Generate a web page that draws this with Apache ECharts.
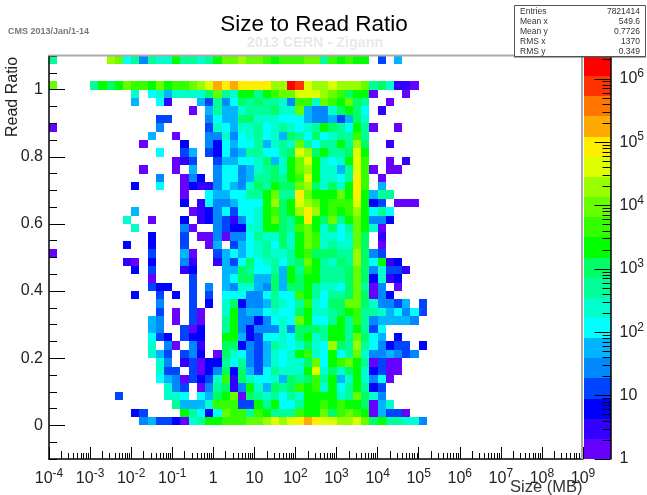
<!DOCTYPE html>
<html><head><meta charset="utf-8">
<style>html,body{margin:0;padding:0;background:#fff}#c{width:647px;height:495px}</style>
<script src="https://cdn.jsdelivr.net/npm/echarts@6/dist/echarts.min.js"></script>
</head><body><div id="c"></div>
<script>
// Estimated counts per colour letter a..t, read from the colour of each cell
const countByLetter = {a:1.4,b:3,c:6,d:13,e:27,f:56,g:115,h:240,i:500,j:1040,k:2160,l:4480,m:9300,n:19300,o:40000,p:83000,q:172000,r:357000,s:741000,t:1540000};
const bandColors = ['#6600ff','#3300ff','#0000ff','#0044ff','#0088ff','#00b4ff','#00ffff','#00ffcc','#00ff99','#00ff66','#00ff00','#33ff00','#66ff00','#99ff00','#ddff00','#ffee00','#ffaa00','#ff7700','#ff3300','#ff0000'];
const zMaxLog = 6.36;
const xBinsPerDecade = 5, xMinLog = -4, xMaxLog = 9;
const yBinWidth = 0.025, yMin = -0.1, yMax = 1.1;
// Rows listed from the top bin (1.075-1.1) downward; a letter per x bin, '.' = empty
const rows = [
"i......nmgieihhkiihikmmnmmlklllmmilklkk.d.f",
"",
"",
"m....ikjkmllkmkllmnoqpqppppnntsonnonnnmijhbba",
"..........h.ghfhhhhjmihkkiklmmooonmljkka...a",
"..........f..gb...fdiegjijiihellhmlkmji..a",
".................a.fiffhiiijhhmfeehjkjg.b",
".............dd....egffjjhhhgggfeefdfjh",
"a............e.....dhgfhhighihghikjigkia..a",
"............f..a...eeheghighfjigjghiili",
"...........a....c..ecgfggifhihmigiikinj..b",
".............g..df.dcgefiiggijonjkiijok",
"...............abd..dffgghjfhkmokhghkol..a.b",
"...........a...a.f..eggefhijhkmnkhhfiola.aa",
".............e..aec.eggefiijiklokhhgipl.a",
"..........c..g..acbbegfehjikjjmnjhjhkpl.f",
"................a..gffggiikmiipmkkkmkpkfii",
"................c.bgeefgggknjkonmklllokcd.aaa",
"..........f......abcegdgghkljknpnklklnkgig",
".........h..a...c.bcedbeghkmjikpkjmikmkeec",
"..........h.....ea..edcchhkkjilmkhjgimkha",
"............c...d.aaeaeegihhjhkmlhhghmj.b",
".........c..c...d..af.dfghigjhkmlhihhmj.a",
"a...........d...fa..dfgfghihhikljjjiinjed",
".........ba.c...eb..bfdgjghigijmkihjinjgkbc",
"..........c.d...bc...ffjiggifkilkiiijmjehddb",
"............a....d...fgjjffjfkjkkiiijmjchbc",
"............dcc..d.e.fehhfejfjjkihhgjmiae.a",
"..........c..d.c.d.d.gggeegigglkigiijmjaec",
".............e...d.c.hjceefihgilhgjjmmjheedf.d",
".............d.a.da..hkeffghggjkhhijkliihfgegd",
"............fe.a.da..ikeeceghgmkggikilieffffe",
"............fe..dac..ikeceeehejjjikkikidg",
"............gdc.dcc..kkfcdgghgjkhikkimjgf.c",
"............h.ea.eb..jjcedfihghjhgnjinigecdd.c",
"............hfd.dec.ajhgedfhghklhgkgimheefede",
".............he.bdaccigiedfhghhjmgklmkiadaa",
".............hdd.dacejcjfdgihhhkohjhjkhcdaa",
".............gfeadcdhlbjhgghfjijlikfhkhega",
"..............hed.aeijbekhfjijlklhkgikicd",
"........d.....hhg.gfjkmajihigihkkkkhimjhe",
"...............ifffhlllddkikggikklklkkjafh",
"..........cd....kigcgmllilkiiilkkmjlmlkafdda",
"...........efddcahikklllmmnonopqpoonnomjkiihhe",
"","","",""
];
const statNames = ['Entries','Mean x','Mean y','RMS x','RMS y'];
const statValues = ['7821414','549.6','0.7726','1370','0.349'];
const yLabelTicks = [0,0.2,0.4,0.6,0.8,1];
const zMajorTicks = [0,1,2,3,4,5,6];

const cells = [];
rows.forEach((row, r) => {
  const low = yMax - (r + 1) * yBinWidth;
  for (let i = 0; i < row.length; i++) {
    if (row[i] === '.') continue;
    cells.push([xMinLog + i / xBinsPerDecade, xMinLog + (i + 1) / xBinsPerDecade, low, low + yBinWidth, countByLetter[row[i]]]);
  }
});
const xMinor = [], xMid = [];
for (let d = xMinLog; d < xMaxLog; d++) {
  [2,3,4,5,6,7,8,9].forEach(m => { (m === 2 ? xMid : xMinor).push(d + Math.log10(m)); });
}
const yMinor = [];
for (let k = -2; k <= 22; k++) yMinor.push(+(k * 0.05).toFixed(2));
const zMinor = [];
for (let d = 0; d <= 6; d++) [2,3,4,5,6,7,8,9].forEach(m => { const v = d + Math.log10(m); if (v < zMaxLog) zMinor.push(v); });
const bands = bandColors.map((c, j) => [zMaxLog * j / 20, zMaxLog * (j + 1) / 20, j]);

function colorOf(count) {
  const j = Math.min(19, Math.max(0, Math.floor(Math.log10(count) / zMaxLog * 20)));
  return bandColors[j];
}
function rectBetween(api, x0, x1, y0, y1, fill) {
  const a = api.coord([x0, y1]), b = api.coord([x1, y0]);
  const l = Math.round(a[0]), t = Math.round(a[1]), r = Math.round(b[0]), bt = Math.round(b[1]);
  return {type:'rect', shape:{x:l, y:t, width:r - l, height:bt - t}, style:{fill}};
}
const labelFont = {fontFamily:'Liberation Sans', fontSize:16, color:'#222'};
const expRich = {n:{fontFamily:'Liberation Sans', fontSize:16, color:'#222', lineHeight:22}, s:{fontFamily:'Liberation Sans', fontSize:12, color:'#222', lineHeight:22, verticalAlign:'top', padding:[0,0,8,0]}};
function expLabel(v) {
  const n = Math.round(v);
  if (n === 0) return '{n|1}';
  if (n === 1) return '{n|10}';
  return '{n|10}{s|' + n + '}';
}
const plain = {show:false};
const option = {
  animation:false,
  backgroundColor:'#fff',
  grid:[
    {left:49, top:56, width:534, height:403, show:false},
    {left:584, top:56, width:30, height:403, show:false}
  ],
  xAxis:[
    {gridIndex:0, z:5, position:'bottom', type:'value', min:xMinLog, max:xMaxLog, interval:1, splitLine:plain,
     axisLine:{onZero:false, lineStyle:{color:'#000', width:1.5}}, axisTick:{inside:true, length:12, lineStyle:{color:'#000'}},
     axisLabel:{...labelFont, formatter:expLabel, margin:9, rich:expRich, hideOverlap:false, showMinLabel:true, showMaxLabel:true}},
    {gridIndex:0, z:5, position:'bottom', type:'value', min:xMinLog, max:xMaxLog, splitLine:plain, axisLine:{show:false, onZero:false}, axisLabel:plain,
     axisTick:{inside:true, length:6, customValues:xMinor, lineStyle:{color:'#000'}}},
    {gridIndex:0, z:5, position:'bottom', type:'value', min:xMinLog, max:xMaxLog, splitLine:plain, axisLine:{show:false, onZero:false}, axisLabel:plain,
     axisTick:{inside:true, length:8, customValues:xMid, lineStyle:{color:'#000'}}},
    {gridIndex:1, type:'value', min:0, max:1, show:false}
  ],
  yAxis:[
    {gridIndex:0, z:5, position:'left', type:'value', min:yMin, max:yMax, splitLine:plain,
     axisLine:{show:true, onZero:false, lineStyle:{color:'#000', width:1.5}},
     axisTick:{show:true, inside:true, length:16, customValues:yLabelTicks, lineStyle:{color:'#000'}},
     axisLabel:{...labelFont, margin:6, customValues:yLabelTicks, formatter:v => String(v)}},
    {gridIndex:0, z:5, position:'left', type:'value', min:yMin, max:yMax, splitLine:plain, axisLine:{show:false, onZero:false}, axisLabel:plain,
     axisTick:{show:true, inside:true, length:8, customValues:yMinor, lineStyle:{color:'#000'}}},
    {gridIndex:1, z:5, type:'value', position:'right', min:0, max:zMaxLog, splitLine:plain,
     axisLine:{show:true, onZero:false, lineStyle:{color:'#000', width:1.5}},
     axisTick:{show:true, inside:true, length:16, customValues:zMajorTicks, lineStyle:{color:'#000'}},
     axisLabel:{...labelFont, margin:9, align:'left', customValues:zMajorTicks, formatter:expLabel, rich:expRich}},
    {gridIndex:1, z:5, type:'value', position:'right', min:0, max:zMaxLog, splitLine:plain, axisLine:{show:false, onZero:false}, axisLabel:plain,
     axisTick:{show:true, inside:true, length:8, customValues:zMinor, lineStyle:{color:'#000'}}}
  ],
  series:[
    {type:'custom', xAxisIndex:0, yAxisIndex:0, coordinateSystem:'cartesian2d', data:cells, silent:true, z:1,
     renderItem:(p, api) => rectBetween(api, api.value(0), api.value(1), api.value(2), api.value(3), colorOf(api.value(4)))},
    {type:'custom', xAxisIndex:3, yAxisIndex:2, coordinateSystem:'cartesian2d', data:bands, silent:true, z:1,
     renderItem:(p, api) => rectBetween(api, 0, 1, api.value(0), api.value(1), bandColors[api.value(2)])}
  ],
  graphic:[
    {type:'line', shape:{x1:49,y1:55.5,x2:583,y2:55.5}, style:{stroke:'#aaa', lineWidth:2}, z:20},
    {type:'line', shape:{x1:582,y1:55,x2:582,y2:459}, style:{stroke:'#aaa', lineWidth:2}, z:20},
    {type:'text', x:8, y:27, style:{text:'CMS 2013/Jan/1-14', font:'bold 9px "Liberation Sans"', fill:'#777'}},
    {type:'text', x:314, y:13, style:{text:'Size to Read Ratio', font:'22.5px "Liberation Sans"', fill:'#000', textAlign:'center'}},
    {type:'text', x:315, y:36, style:{text:'2013 CERN - Zigann', font:'bold 14.4px "Liberation Sans"', fill:'#e8e8e8', textAlign:'center'}},
    {type:'text', x:5, y:137, rotation:Math.PI/2, style:{text:'Read Ratio', font:'16px "Liberation Sans"', fill:'#222'}},
    {type:'text', x:510, y:479, style:{text:'Size (MB)', font:'16.5px "Liberation Sans"', fill:'#333'}},
    {type:'rect', shape:{x:514.5,y:5.5,width:131,height:51}, style:{fill:'#fff', stroke:'#555', lineWidth:1}, z:30},
    {type:'line', shape:{x1:514,y1:57,x2:646,y2:57}, style:{stroke:'#555', lineWidth:1}, z:30},
    ...statNames.map((s, i) => ({type:'text', x:520, y:7 + i * 10, z:31, style:{text:s, font:'8.5px "Liberation Sans"', fill:'#333'}})),
    ...statValues.map((s, i) => ({type:'text', x:640, y:7 + i * 10, z:31, style:{text:s, font:'8.5px "Liberation Sans"', fill:'#333', textAlign:'right'}}))
  ]
};
echarts.init(document.getElementById('c'), null, {renderer:'canvas'}).setOption(option);
</script></body></html>
